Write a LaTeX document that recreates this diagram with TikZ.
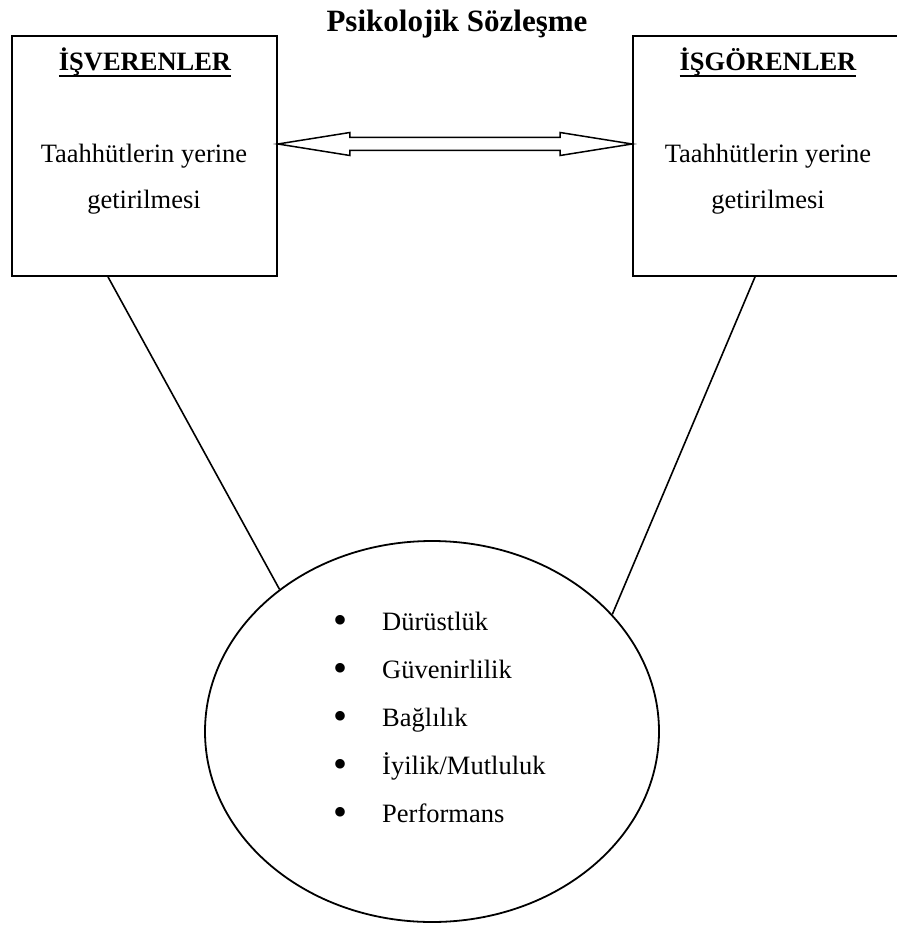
\documentclass[tikz,border=0pt]{standalone}
\usepackage{fontspec}
\setmainfont{Liberation Serif}
\usetikzlibrary{shapes.geometric,calc}
% underlined heading with a heavy rule
\newcommand\headline[1]{\setbox0\hbox{#1}\rlap{\rule[-6pt]{\wd0}{2.4pt}}\box0}
\begin{document}
\begin{tikzpicture}[x=1pt,y=-1pt,
  frame/.style={draw,line width=1.8pt,rectangle,inner sep=0pt,minimum width=265pt,minimum height=240pt},
  oval/.style={draw,line width=1.8pt,ellipse,inner sep=0pt,minimum width=454pt,minimum height=381pt},
  link/.style={line width=1.6pt},
  body/.style={anchor=base,inner sep=0pt,font=\fontsize{26.5}{30}\selectfont},
  head/.style={anchor=base,inner sep=0pt,font=\fontsize{26.5}{30}\selectfont\bfseries},
  bulletmark/.style={anchor=center,inner sep=0pt,font=\fontsize{40}{40}\selectfont},
  item/.style={anchor=base west,inner sep=0pt,font=\fontsize{26.5}{30}\selectfont}]
\useasboundingbox (0,0) rectangle (896,925);

% title
\node[anchor=base,inner sep=0pt,font=\fontsize{31}{36}\selectfont\bfseries] (title) at (457,32) {Psikolojik Sözleşme};

% the two parties
\node[frame] (lb) at (144.5,156) {};
\node[frame] (rb) at (765.5,156) {};
\node[head] (lh) at (145,71) {\headline{İŞVERENLER}};
\node[head] (rh) at (768,71) {\headline{İŞGÖRENLER}};
\node[body] (lt1) at (144,163) {Taahhütlerin yerine};
\node[body] (lt2) at (144,208) {getirilmesi};
\node[body] (rt1) at (768,163) {Taahhütlerin yerine};
\node[body] (rt2) at (768,208) {getirilmesi};

% two-way block arrow between the boxes
\coordinate (aL) at ([yshift=12pt]lb.east);
\coordinate (aR) at ([yshift=12pt]rb.west);
\draw[line width=1.5pt,line join=miter]
  (aL) -- ($(aL)+(72,-11.5)$) -- ($(aL)+(72,-6.5)$) -- ($(aR)+(-72,-6.5)$)
  -- ($(aR)+(-72,-11.5)$) -- (aR) -- ($(aR)+(-72,11.5)$) -- ($(aR)+(-72,6.5)$)
  -- ($(aL)+(72,6.5)$) -- ($(aL)+(72,11.5)$) -- cycle;

% shared values
\node[oval] (el) at (432,731.5) {};
\draw[link] ([xshift=-36.5pt]lb.south) -- (el.137.4);
\draw[link] ([xshift=-10.5pt]rb.south) -- (el.33.4);

\foreach \y/\t [count=\i] in {630/Dürüstlük,678/Güvenirlilik,726/Bağlılık,774/İyilik\slash Mutluluk,822/Performans}{
  \node[bulletmark] (b\i) at (340,\y-6) {•};
  \node[item] (v\i) at (382,\y) {\t};
}
\end{tikzpicture}
\end{document}
